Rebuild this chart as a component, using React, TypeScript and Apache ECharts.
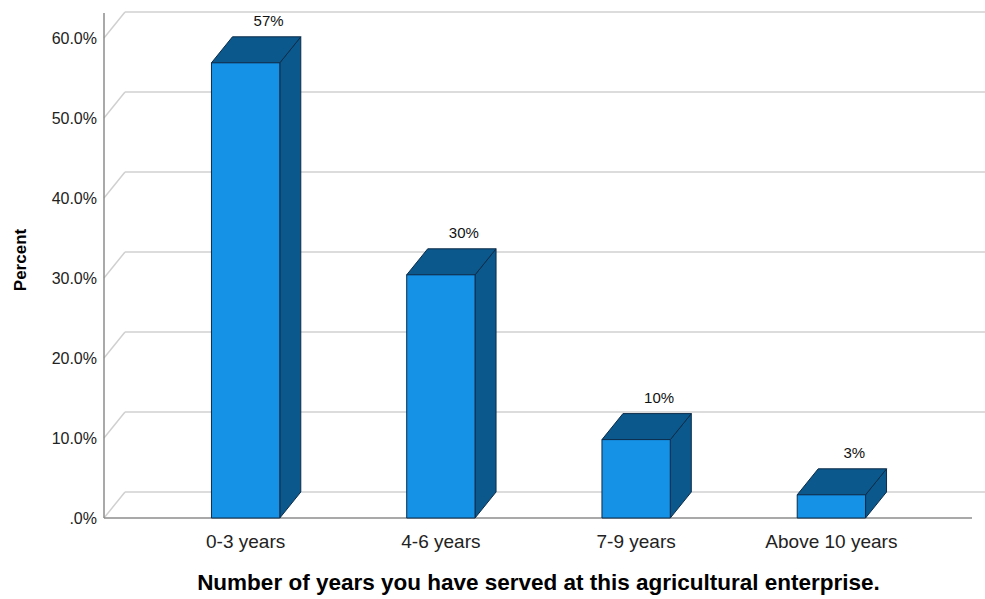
import React, { useEffect, useRef } from 'react';
import * as echarts from 'echarts';

const categories = ['0-3 years', '4-6 years', '7-9 years', 'Above 10 years'];
const percents = [56.9, 30.4, 9.8, 2.9];
const yTicks = [0, 10, 20, 30, 40, 50, 60];
const xTitle = 'Number of years you have served at this agricultural enterprise.';
const yTitle = 'Percent';

const DX = 21;
const DY = -26;
const SANS = "'Liberation Sans', Arial, sans-serif";

export default function App() {
  const ref = useRef<HTMLDivElement>(null);
  useEffect(() => {
    const chart = echarts.init(ref.current!, null, { renderer: 'svg' });
    const frameSeries = {
      type: 'custom',
      z: 1,
      silent: true,
      data: yTicks.map((v) => [0, v]),
      renderItem: (params: any, api: any) => {
        const cs = params.coordSys;
        const v = api.value(1);
        const fy = api.coord([0, v])[1];
        const x0 = cs.x - 44;
        const right = cs.x + cs.width + 70;
        const children: any[] = [
          { type: 'line', shape: { x1: x0, y1: fy, x2: x0 + DX, y2: fy + DY }, style: { stroke: '#d0d0d0', lineWidth: 1.5 } },
          { type: 'line', shape: { x1: x0 + DX, y1: fy + DY, x2: right, y2: fy + DY }, style: { stroke: '#d0d0d0', lineWidth: 1.5 } },
        ];
        if (params.dataIndex === 0) {
          const topY = api.coord([0, yTicks[yTicks.length - 1]])[1] + DY + 1;
          children.push(
            { type: 'line', z2: 5, shape: { x1: x0, y1: fy, x2: cs.x + cs.width + 43, y2: fy }, style: { stroke: '#8c8c8c', lineWidth: 1.5 } },
            { type: 'line', z2: 5, shape: { x1: x0, y1: topY, x2: x0, y2: fy }, style: { stroke: '#8c8c8c', lineWidth: 1.5 } }
          );
        }
        return { type: 'group', children };
      },
    };
    const barSeries = {
      type: 'custom',
      z: 5,
      data: percents.map((v, i) => [i, v]),
      renderItem: (params: any, api: any) => {
        const i = api.value(0);
        const v = api.value(1);
        const top = api.coord([i, v]);
        const base = api.coord([i, 0]);
        const w = api.size([1, 0])[0] * 0.35;
        const xl = top[0] - w / 2;
        const xr = top[0] + w / 2;
        const yt = top[1];
        const yb = base[1];
        const stroke = '#0c2c4a';
        return {
          type: 'group',
          children: [
            {
              type: 'polygon',
              shape: { points: [[xr, yt], [xr + DX, yt + DY], [xr + DX, yb + DY], [xr, yb]] },
              style: { fill: '#0b588c', stroke, lineWidth: 1 },
            },
            {
              type: 'polygon',
              shape: { points: [[xl, yt], [xl + DX, yt + DY], [xr + DX, yt + DY], [xr, yt]] },
              style: { fill: '#0b588c', stroke, lineWidth: 1 },
            },
            {
              type: 'rect',
              shape: { x: xl, y: yt, width: w, height: yb - yt },
              style: { fill: '#1591e6', stroke, lineWidth: 1 },
            },
            {
              type: 'text',
              x: top[0] + DX + 2,
              y: yt + DY - 16,
              style: {
                text: Math.round(v) + '%',
                fontFamily: SANS,
                fontSize: 15,
                fill: '#111',
                align: 'center',
                verticalAlign: 'middle',
              },
            },
          ],
        };
      },
    };
    const option = {
      animation: false,
      backgroundColor: '#ffffff',
      grid: { left: 148, right: 56, top: 38, bottom: 81 },
      xAxis: {
        type: 'category',
        data: categories,
        axisLine: { show: false },
        axisTick: { show: false },
        splitLine: { show: false },
        axisLabel: { fontFamily: SANS, fontSize: 19, color: '#222', margin: 14 },
        name: xTitle,
        nameLocation: 'middle',
        nameGap: 53,
        nameTextStyle: { fontFamily: SANS, fontWeight: 'bold', fontSize: 22.5, color: '#000' },
      },
      yAxis: {
        type: 'value',
        min: 0,
        max: 60,
        interval: 10,
        offset: 44,
        axisLine: { show: false },
        axisTick: { show: false },
        splitLine: { show: false },
        axisLabel: {
          fontFamily: SANS,
          fontSize: 16,
          color: '#222',
          margin: 7,
          formatter: (v: number) => (v === 0 ? '.0%' : v.toFixed(1) + '%'),
        },
      },
      graphic: [
        {
          type: 'text',
          x: 20,
          y: 260,
          rotation: Math.PI / 2,
          style: {
            text: yTitle,
            fontFamily: SANS,
            fontWeight: 'bold',
            fontSize: 17,
            fill: '#000',
            align: 'center',
            verticalAlign: 'middle',
          },
        },
      ],
      series: [frameSeries, barSeries],
    };
    chart.setOption(option as any);
    return () => chart.dispose();
  }, []);
  return <div ref={ref} style={{ position: 'absolute', left: 0, top: 0, width: 985, height: 599 }} />;
}
